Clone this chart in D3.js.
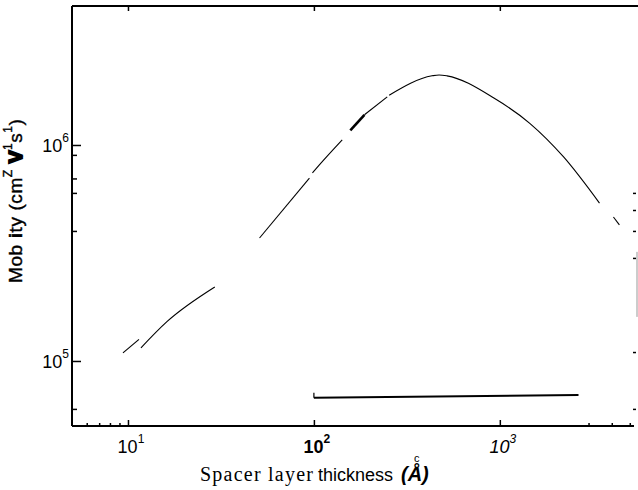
<!DOCTYPE html>
<html><head><meta charset="utf-8">
<script src="https://cdn.jsdelivr.net/npm/d3@7"></script>
<style>body{margin:0;background:#fff}svg{display:block}</style>
</head><body><svg id="c" width="638" height="490"></svg>
<script>
// ---- data ----
const xMajorTicks = [10, 100, 1000];
const xMajorExp = ["1", "2", "3"];
const xMinorBottom = [6, 7, 8, 9, 3000, 4000, 5000];
const yMajorTicks = [1e5, 1e6];
const yMajorExp = ["5", "6"];
const yMinorLeft = [6e4, 9e5, 7e5, 6e5, 4e5];
const yMinorRight = [6e4, 1.1e5, 3e5, 4e5, 5e5, 6e5];
// mobility curve (thickness in Å, mobility cm^2/Vs), pieces as seen in the scan
const segA = [[9.4, 1.09e5], [11.46, 1.26e5]];
const segB = [[11.74, 1.15e5], [16.2, 1.52e5], [29.3, 2.2e5]];
const segC = [[51, 3.71e5], [94.6, 7.03e5]];
const segD = [[98.2, 7.42e5], [107, 8.08e5], [142, 1.055e6]];
const segE = [[157, 1.17e6], [187, 1.38e6]];
const segF = [[187, 1.38e6], [248, 1.67e6]];
const segG = [[254, 1.70e6], [432, 2.09e6], [471, 2.11e6], [520, 2.09e6], [929, 1.65e6], [1449, 1.26e6], [2203, 8.8e5], [3436, 5.38e5]];
const segH = [[4083, 4.64e5], [4396, 4.27e5]];
const baseLine = [[100, 6.75e4], [2650, 6.95e4]];

// ---- drawing ----
const svg = d3.select("#c");
const L = 72, R = 636, T = 6, B = 426;
const x = d3.scaleLog().domain([5, 5400]).range([L, R]);
const y = d3.scaleLog().domain([5e4, 4.4e6]).range([B, T]);
const sans = "'Liberation Sans', Arial, Helvetica, sans-serif";
const serif = "'Liberation Serif', 'Times New Roman', serif";

// axes with inward ticks
svg.append("g").attr("transform", `translate(0,${B})`)
  .call(d3.axisBottom(x).tickValues(xMajorTicks).tickSize(-6).tickFormat(""));
svg.append("g").attr("transform", `translate(0,${B})`)
  .call(d3.axisBottom(x).tickValues(xMinorBottom).tickSize(-3).tickFormat(""));
svg.append("g").attr("transform", `translate(0,${T})`)
  .call(d3.axisTop(x).tickValues(xMajorTicks).tickSize(-5).tickFormat(""));
svg.append("g").attr("transform", `translate(${L},0)`)
  .call(d3.axisLeft(y).tickValues(yMajorTicks).tickSize(-9).tickFormat(""));
svg.append("g").attr("transform", `translate(${L},0)`)
  .call(d3.axisLeft(y).tickValues(yMinorLeft).tickSize(-5).tickFormat(""));
svg.append("g").attr("transform", `translate(${R},0)`)
  .call(d3.axisRight(y).tickValues(yMinorRight).tickSize(-3).tickFormat(""));
svg.selectAll(".domain").remove();
svg.selectAll(".tick line").attr("stroke", "#000").attr("stroke-width", 1.5);

// frame (left, top, bottom)
svg.append("line").attr("x1", L).attr("x2", L).attr("y1", T).attr("y2", B).attr("stroke", "#000").attr("stroke-width", 2);
svg.append("line").attr("x1", L).attr("x2", 638).attr("y1", T).attr("y2", T).attr("stroke", "#000").attr("stroke-width", 2.2);
svg.append("line").attr("x1", L).attr("x2", R - 2).attr("y1", B).attr("y2", B).attr("stroke", "#000").attr("stroke-width", 1.8);
svg.append("line").attr("x1", R + 1).attr("x2", R + 1).attr("y1", y(3.2e5)).attr("y2", y(1.6e5)).attr("stroke", "#999").attr("stroke-width", 1);

// tick labels
xMajorTicks.forEach((v, i) => {
  const t = svg.append("text").attr("x", x(v) + 3).attr("y", 453)
    .attr("text-anchor", "middle").attr("font-family", sans).attr("font-size", 18)
    .attr("font-weight", i === 1 ? "bold" : "normal")
    .attr("font-style", i === 2 ? "italic" : "normal");
  t.append("tspan").text("10");
  t.append("tspan").attr("dy", -10).attr("font-size", 12).text(xMajorExp[i]);
});
yMajorTicks.forEach((v, i) => {
  const t = svg.append("text").attr("x", 69).attr("y", y(v) + 7)
    .attr("text-anchor", "end").attr("font-family", sans).attr("font-size", 18);
  t.append("tspan").text("10");
  t.append("tspan").attr("dy", -10).attr("font-size", 12).text(yMajorExp[i]);
});

// curve
const line = d3.line().x(d => x(d[0])).y(d => y(d[1])).curve(d3.curveMonotoneX);
[segA, segB, segC, segD, segF, segG, segH].forEach(s => {
  svg.append("path").datum(s).attr("d", line).attr("fill", "none").attr("stroke", "#000").attr("stroke-width", 1.1);
});
svg.append("path").datum(segE).attr("d", line).attr("fill", "none").attr("stroke", "#000").attr("stroke-width", 2.6);
svg.append("path").datum(baseLine).attr("d", d3.line().x(d => x(d[0])).y(d => y(d[1])))
  .attr("fill", "none").attr("stroke", "#000").attr("stroke-width", 2);
svg.append("line").attr("x1", x(baseLine[0][0])).attr("x2", x(baseLine[0][0]))
  .attr("y1", y(baseLine[0][1]) - 5).attr("y2", y(baseLine[0][1])).attr("stroke", "#000").attr("stroke-width", 1.2);

// x-axis title
const xt = svg.append("text").attr("y", 481).attr("fill", "#000");
xt.append("tspan").attr("x", 200).attr("font-family", serif).attr("font-size", 20)
  .attr("textLength", 113).attr("lengthAdjust", "spacing").text("Spacer layer");
xt.append("tspan").attr("x", 318).attr("font-family", sans).attr("font-size", 18).text("thickness");
xt.append("tspan").attr("x", 401).attr("font-family", sans).attr("font-size", 20)
  .attr("font-weight", "bold").attr("font-style", "italic").text("(Å)");
svg.append("text").attr("x", 414).attr("y", 462).attr("font-family", sans).attr("font-size", 11).text("c");

// y-axis title
const yt = svg.append("text").attr("transform", "translate(22,283) rotate(-90)")
  .attr("font-family", sans).attr("font-size", 19).attr("letter-spacing", 0.6).attr("fill", "#000")
  .attr("stroke", "#000").attr("stroke-width", 0.4);
yt.append("tspan").text("Mob ");
yt.append("tspan").attr("font-weight", "bold").text("i");
yt.append("tspan").text("ty (cm");
yt.append("tspan").attr("dy", -10).attr("font-size", 12).text("Z");
yt.append("tspan").attr("dy", 10).attr("font-weight", 900).attr("stroke-width", 2).text(" V");
yt.append("tspan").attr("dy", -10).attr("font-size", 12).text("1");
yt.append("tspan").attr("dy", 10).text("s");
yt.append("tspan").attr("dy", -10).attr("font-size", 12).text("1");
yt.append("tspan").attr("dy", 10).text(")");
</script>
</body></html>
